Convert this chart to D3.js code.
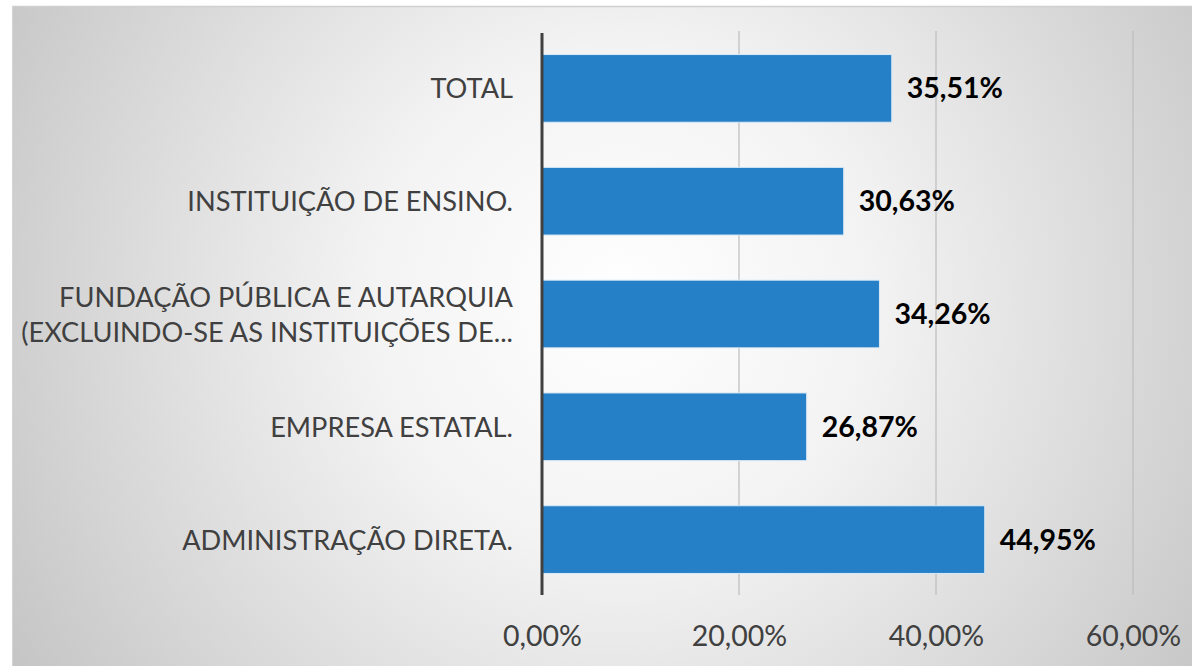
<!DOCTYPE html>
<html><head><meta charset="utf-8">
<script src="https://cdn.jsdelivr.net/npm/d3@7"></script>
<style>html,body{margin:0;padding:0;background:#fff;}svg{display:block;}</style>
</head><body>
<script>
const categories = ["TOTAL", "INSTITUIÇÃO DE ENSINO.", "FUNDAÇÃO PÚBLICA E AUTARQUIA|(EXCLUINDO-SE AS INSTITUIÇÕES DE...", "EMPRESA ESTATAL.", "ADMINISTRAÇÃO DIRETA."];
const values = [35.51, 30.63, 34.26, 26.87, 44.95];
const valueLabels = ["35,51%", "30,63%", "34,26%", "26,87%", "44,95%"];
const tickValues = [0, 20, 40, 60];
const tickLabels = ["0,00%", "20,00%", "40,00%", "60,00%"];

const W = 1192, H = 666;
const FONT = "Lato, 'Open Sans', sans-serif";
const svg = d3.select("body").append("svg").attr("width", W).attr("height", H);
const defs = svg.append("defs");
const rg = defs.append("radialGradient").attr("id", "bg")
  .attr("gradientUnits", "userSpaceOnUse")
  .attr("cx", 620).attr("cy", 300).attr("r", 720);
rg.append("stop").attr("offset", "0").attr("stop-color", "#ffffff");
rg.append("stop").attr("offset", "0.35").attr("stop-color", "#f3f3f3");
rg.append("stop").attr("offset", "1").attr("stop-color", "#c4c4c4");

svg.append("rect").attr("x", 12).attr("y", 6).attr("width", W - 12).attr("height", H - 6).attr("fill", "url(#bg)");
svg.append("line").attr("x1", 12).attr("x2", W).attr("y1", 6.5).attr("y2", 6.5).attr("stroke", "#d0d0d0").attr("stroke-width", 1.5);
svg.append("line").attr("x1", 12.5).attr("x2", 12.5).attr("y1", 6).attr("y2", H).attr("stroke", "#d4d4d4").attr("stroke-width", 1);

const x = d3.scaleLinear().domain([0, 60]).range([542, 1133]);
const y = d3.scaleBand().domain(categories).range([32, 596]).paddingInner(0.4).paddingOuter(0.2);

// gridlines
svg.append("g").selectAll("line").data(tickValues.filter(d => d > 0)).join("line")
  .attr("x1", d => x(d)).attr("x2", d => x(d)).attr("y1", 31).attr("y2", 595)
  .attr("stroke", "#bdbdbd").attr("stroke-width", 1.2);

// bars
svg.append("g").selectAll("rect").data(categories).join("rect")
  .attr("x", x(0)).attr("y", d => y(d))
  .attr("width", (d, i) => x(values[i]) - x(0)).attr("height", y.bandwidth())
  .attr("fill", "#2680c8").attr("stroke", "#dbe9f5").attr("stroke-width", 1);

// axis line
svg.append("line").attr("x1", x(0)).attr("x2", x(0)).attr("y1", 33).attr("y2", 595)
  .attr("stroke", "#404040").attr("stroke-width", 3);

// x tick labels
const xAxis = d3.axisBottom(x).tickValues(tickValues).tickFormat((d, i) => tickLabels[i]).tickSize(0).tickPadding(0);
const gx = svg.append("g").attr("transform", "translate(0,646)").call(xAxis);
gx.select(".domain").remove();
gx.selectAll("text").attr("dy", 0).attr("fill", "#404040")
  .style("font-family", FONT).style("font-size", "28.5px");

// category labels
const gl = svg.append("g");
categories.forEach((c, i) => {
  const lines = c.split("|");
  const cy = y(c) + y.bandwidth() / 2;
  const lh = 35;
  const t = gl.append("text").attr("text-anchor", "end").attr("fill", "#404040")
    .style("font-family", FONT).style("font-size", "27.2px");
  lines.forEach((ln, j) => {
    t.append("tspan").attr("x", 513)
      .attr("y", cy + (j - (lines.length - 1) / 2) * lh + 10).text(ln);
  });
});

// value labels
svg.append("g").selectAll("text").data(categories).join("text")
  .attr("x", (d, i) => x(values[i]) + 15).attr("y", d => y(d) + y.bandwidth() / 2 + 10)
  .attr("fill", "#000").style("font-weight", "bold")
  .style("font-family", FONT).style("font-size", "28.5px")
  .text((d, i) => valueLabels[i]);
</script>
</body></html>
